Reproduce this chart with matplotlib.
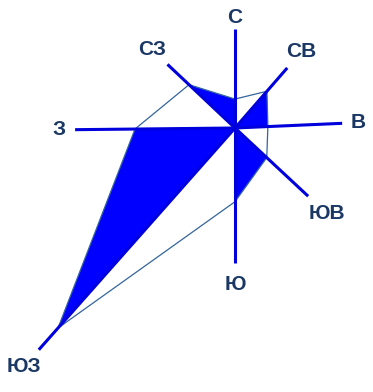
import numpy as np
import matplotlib.pyplot as plt

# роза ветров: повторяемость направлений, %
directions = ['С', 'СВ', 'В', 'ЮВ', 'Ю', 'ЮЗ', 'З', 'СЗ']
frequency = [4.4, 7.4, 5.0, 6.6, 11.2, 40.6, 15.2, 9.6]

# layout (in the same units as frequency)
bearings = [0, 41, 87.5, 133, 180, 221.5, 269.4, 313.3]
axis_len = [15.0, 12.1, 16.3, 15.2, 20.5, 45.0, 24.3, 14.1]
label_pad = [1.8, 3.3, 2.4, 3.9, 3.3, 3.4, 2.4, 3.3]

s = 6.58  # px per unit
cx, cy = 235, 128
W, H = 373, 392

fig = plt.figure(figsize=(W / 100, H / 100), dpi=100)
ax = fig.add_axes([0, 0, 1, 1])
ax.set_xlim(-cx / s, (W - cx) / s)
ax.set_ylim(-(H - cy) / s, cy / s)
ax.axis('off')

th = np.radians(bearings)
r = np.array(frequency)
px = r * np.sin(th)
py = r * np.cos(th)

# filled sectors (every other one)
n = len(directions)
for i in range(1, n, 2):
    j = (i + 1) % n
    ax.fill([0, px[i], px[j]], [0, py[i], py[j]], color='#0000ff', lw=0, zorder=1)

# outline
ax.plot(np.append(px, px[0]), np.append(py, py[0]), color='#33659c', lw=0.9, zorder=2)

# axes of the rose
L = np.array(axis_len)
for k in range(n):
    ax.plot([0, L[k] * np.sin(th[k])], [0, L[k] * np.cos(th[k])],
            color='#0000dd', lw=2.2, solid_capstyle='butt', zorder=3)
    rl = L[k] + label_pad[k]
    ax.text(rl * np.sin(th[k]), rl * np.cos(th[k]), directions[k],
            ha='center', va='center', fontsize=15, fontweight='bold',
            family='Liberation Sans', color='#1b3865', zorder=4)

fig.savefig('out.png', dpi=100)
